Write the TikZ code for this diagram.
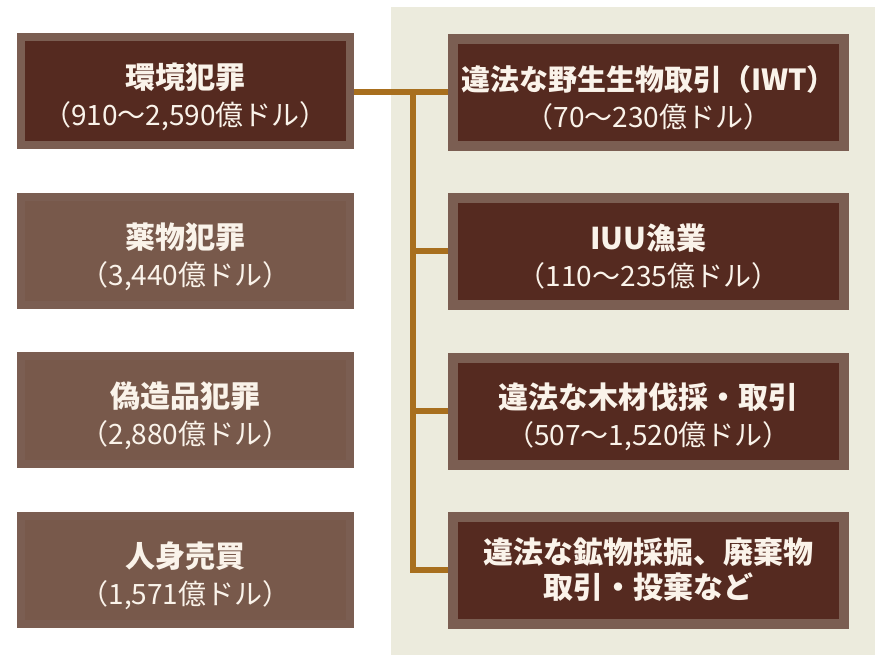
\documentclass[tikz,border=0pt]{standalone}
\usepackage{fontspec}
\setmainfont{Noto Sans CJK JP}
\pgfdeclarelayer{bg}
\pgfdeclarelayer{mid}
\pgfsetlayers{bg,mid,main}
\definecolor{panelc}{HTML}{ECEBDD}
\definecolor{darkc}{HTML}{552A20}
\definecolor{borderc}{HTML}{7B5E52}
\definecolor{lightc}{HTML}{78594B}
\definecolor{linec}{HTML}{A86F1E}
\definecolor{textc}{HTML}{FAF3EA}
\tikzset{
  x=1pt, y=-1pt,
  boxbase/.style={rectangle, draw=borderc, line width=8pt, text=textc,
    align=center, font=\fontsize{28}{37}\selectfont, inner sep=0pt},
  darkbox/.style={boxbase, fill=darkc, minimum width=329pt, minimum height=108pt},
  lightbox/.style={boxbase, fill=lightc, minimum width=329pt, minimum height=108pt},
  rightbox/.style={boxbase, fill=darkc, line width=10pt, minimum width=391pt, minimum height=107pt},
  conn/.style={draw=linec, line width=6pt}
}
\newcommand{\ttl}[2][30]{\rule{0pt}{37pt}{\fontsize{#1}{37}\selectfont\bfseries #2}}
\newcommand{\ttlb}[1]{{\fontsize{30}{37}\selectfont\bfseries #1}}
\begin{document}
\begin{tikzpicture}
\useasboundingbox (0,0) rectangle (883,659);
\begin{pgfonlayer}{bg}
\fill[white] (0,0) rectangle (883,659);
\fill[panelc] (391,7) rectangle (875,655);
\end{pgfonlayer}

\node[darkbox]  (L1) at (185.5,91)  {\ttl{環境犯罪}\\（910〜2,590億ドル）};
\node[lightbox] (L2) at (185.5,251) {\ttl{薬物犯罪}\\（3,440億ドル）};
\node[lightbox] (L3) at (185.5,410) {\ttl{偽造品犯罪}\\（2,880億ドル）};
\node[lightbox] (L4) at (185.5,570) {\ttl{人身売買}\\（1,571億ドル）};

\node[rightbox] (R1) at (648.5,92)  {\ttl[29]{違法な野生生物取引（IWT）}\\（70〜230億ドル）};
\node[rightbox] (R2) at (648.5,251) {\ttl{IUU漁業}\\（110〜235億ドル）};
\node[rightbox] (R3) at (648.5,411) {\ttl{違法な木材伐採・取引}\\（507〜1,520億ドル）};
\node[rightbox, font=\fontsize{30}{35}\selectfont] (R4) at (648.5,570) {\ttlb{違法な鉱物採掘、廃棄物}\\\ttlb{取引・投棄など}};

\coordinate (J1) at (413,92);
\coordinate (J4) at (413,570);
\begin{pgfonlayer}{mid}
\draw[conn] (L1.east |- J1) -- (R1.west |- J1);
\draw[conn, line cap=rect] (J1) -- (J4);
\draw[conn] (J1 |- R2.west) -- (R2.west);
\draw[conn] (J1 |- R3.west) -- (R3.west);
\draw[conn] (J4) -- (R4.west);
\end{pgfonlayer}
\end{tikzpicture}
\end{document}
